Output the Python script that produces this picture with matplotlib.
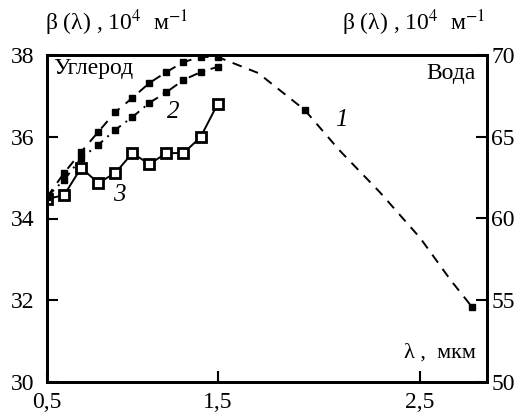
import numpy as np
import matplotlib
matplotlib.use("Agg")
import matplotlib.pyplot as plt
from matplotlib.scale import FuncScale

plt.rcParams['font.family'] = ['Liberation Serif', 'DejaVu Serif']
plt.rcParams['mathtext.fontset'] = 'stix'

# углерод (левая ось), вода (правая ось)
lam_c = [0.5, 0.6, 0.7, 0.8, 0.9, 1.0, 1.1, 1.2, 1.3, 1.4, 1.5]
carbon_2 = [34.53, 34.94, 35.48, 35.80, 36.17, 36.48, 36.83, 37.09, 37.39, 37.58, 37.71]
carbon_3 = [34.48, 34.57, 35.24, 34.87, 35.11, 35.60, 35.33, 35.60, 35.60, 35.99, 36.80]

lam_w = [0.5, 0.6, 0.7, 0.8, 0.9, 1.0, 1.1, 1.2, 1.3, 1.4, 1.5,
         1.7, 1.93, 2.1, 2.3, 2.5, 2.65, 2.756]
water_1 = [61.31, 62.78, 64.07, 65.29, 66.51, 67.37, 68.29, 68.96, 69.57, 69.88, 69.88,
           68.90, 66.64, 64.19, 61.62, 58.81, 56.24, 54.59]
water_marks = [0, 1, 2, 3, 4, 5, 6, 7, 8, 9, 10, 12, 17]

xticks = [0.5, 1.5, 2.5]
xticklabels = ['0,5', '1,5', '2,5']


# ось lambda в оригинале неравномерная: до 1,5 одна цена деления, дальше другая
def fwd(x):
    x = np.asarray(x, dtype=float)
    return np.where(x <= 1.5, (x - 0.5) * 171.0, 171.0 + (x - 1.5) * 203.0)


def inv(p):
    p = np.asarray(p, dtype=float)
    return np.where(p <= 171.0, 0.5 + p / 171.0, 1.5 + (p - 171.0) / 203.0)


fig = plt.figure(figsize=(5.23, 4.17), dpi=100)
ax = fig.add_axes([47 / 523, 1 - 382 / 417, 440 / 523, 327 / 417])
ax2 = ax.twinx()

for a in (ax, ax2):
    a.set_xscale(FuncScale(a.xaxis, (fwd, inv)))
    for s in a.spines.values():
        s.set_linewidth(2)

ax.set_xlim(0.5, 2.83)
ax.set_ylim(30, 38)
ax2.set_ylim(50, 70)

ax.plot(lam_c, carbon_2, color='black', lw=1.4, ls=(0, (5, 3, 1, 3)),
        marker='s', ms=4.5, mfc='black', mec='black')
ax.plot(lam_c, carbon_3, color='black', lw=1.4, ls='-',
        marker='s', ms=7, mfc='white', mec='black', mew=2)
ax2.plot(lam_w, water_1, color='black', lw=1.4, ls=(0, (5, 4)),
         marker='s', ms=4.5, mfc='black', mec='black', markevery=water_marks)

ax.set_xticks(xticks)
ax.set_xticklabels(xticklabels)
ax.set_yticks([30, 32, 34, 36, 38])
ax2.set_yticks([50, 55, 60, 65, 70])
ax.tick_params(axis='both', direction='in', length=8, width=1.5, labelsize=17,
               right=False, top=False)
ax.tick_params(axis='y', pad=9)
ax.tick_params(axis='x', pad=7)
ax2.tick_params(axis='y', direction='in', length=8, width=1.5, labelsize=17, pad=3)

ax.text(6 / 440, 1 - 3 / 327, 'Углерод', transform=ax.transAxes,
        fontsize=17, ha='left', va='top')
ax.text(1 - 11 / 440, 1 - 8 / 327, 'Вода', transform=ax.transAxes,
        fontsize=17, ha='right', va='top')
ax.text(1 - 11 / 440, 24 / 327, 'λ ,  мкм', transform=ax.transAxes,
        fontsize=16, ha='right', va='baseline')

fig.text(341 / 523, 1 - 120 / 417, '1', fontsize=18, style='italic', ha='center', va='center')
fig.text(173 / 523, 1 - 112 / 417, '2', fontsize=18, style='italic', ha='center', va='center')
fig.text(119 / 523, 1 - 195 / 417, '3', fontsize=18, style='italic', ha='center', va='center')

fig.text(45 / 523, 1 - 30 / 417, 'β (λ) , 10$^{4}$  м$^{-1}$', fontsize=17,
         ha='left', va='baseline')
fig.text(485 / 523, 1 - 30 / 417, 'β (λ) , 10$^{4}$  м$^{-1}$', fontsize=17,
         ha='right', va='baseline')

fig.savefig('out.png', dpi=100)
